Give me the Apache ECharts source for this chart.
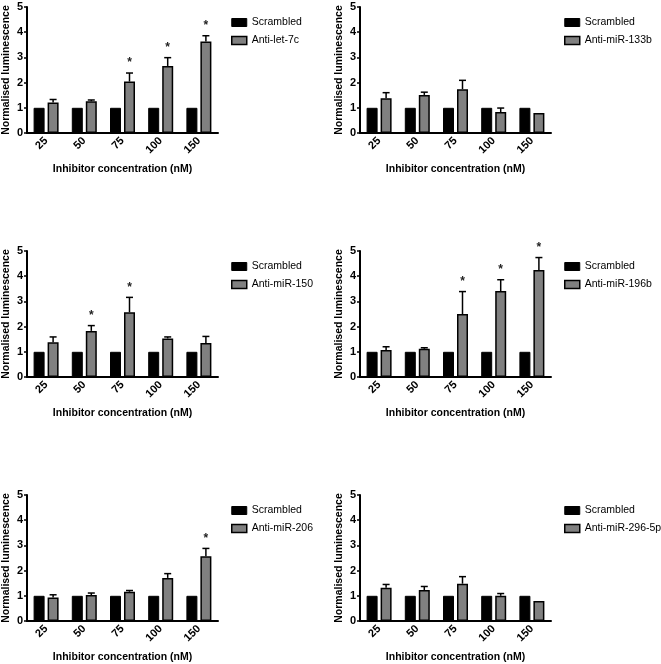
<!DOCTYPE html>
<html>
<head>
<meta charset="utf-8">
<script src="https://cdn.jsdelivr.net/npm/echarts@6/dist/echarts.min.js"></script>
<style>html,body{margin:0;padding:0;background:#fff}#c{width:661px;height:664px}</style>
</head>
<body>
<div id="c"></div>
<script>
const categories = ['25', '50', '75', '100', '150'];
const yTicks = [0, 1, 2, 3, 4, 5];
const controlName = 'Scrambled';
const inhibitorNames = ['Anti-let-7c', 'Anti-miR-133b', 'Anti-miR-150', 'Anti-miR-196b', 'Anti-miR-206', 'Anti-miR-296-5p'];
const scrambledValues = [1, 1, 1, 1, 1];
const letValues = [1.21, 1.26, 2.04, 2.66, 3.63];
const letErr = [1.33, 1.31, 2.38, 2.99, 3.86];
const letStar = [false, false, true, true, true];
const m133Values = [1.38, 1.51, 1.74, 0.83, 0.79];
const m133Err = [1.60, 1.62, 2.09, 0.99, 0.80];
const m133Star = [false, false, false, false, false];
const m150Values = [1.38, 1.83, 2.57, 1.53, 1.35];
const m150Err = [1.59, 2.04, 3.16, 1.59, 1.61];
const m150Star = [false, true, true, false, false];
const m196Values = [1.07, 1.12, 2.50, 3.41, 4.25];
const m196Err = [1.20, 1.16, 3.39, 3.86, 4.74];
const m196Star = [false, false, true, true, true];
const m206Values = [0.93, 1.03, 1.16, 1.71, 2.57];
const m206Err = [1.04, 1.11, 1.21, 1.88, 2.88];
const m206Star = [false, false, false, false, true];
const m296Values = [1.32, 1.23, 1.48, 1.00, 0.79];
const m296Err = [1.45, 1.37, 1.76, 1.09, 0.81];
const m296Star = [false, false, false, false, false];

const panels = [
  {name: inhibitorNames[0], v: letValues, e: letErr, s: letStar},
  {name: inhibitorNames[1], v: m133Values, e: m133Err, s: m133Star},
  {name: inhibitorNames[2], v: m150Values, e: m150Err, s: m150Star},
  {name: inhibitorNames[3], v: m196Values, e: m196Err, s: m196Star},
  {name: inhibitorNames[4], v: m206Values, e: m206Err, s: m206Star},
  {name: inhibitorNames[5], v: m296Values, e: m296Err, s: m296Star}
];

const FONT = 'Liberation Sans, Arial, sans-serif';
const BAR_W = 11, BAR_GAP = 3;
const GRAY = '#808080';
const lefts = [27, 360];
const tops = [7, 251, 495];
const gridW = 191, gridH = 126;

const grid = [], xAxis = [], yAxis = [], series = [], legend = [];
panels.forEach((p, i) => {
  const col = i % 2, row = Math.floor(i / 2);
  grid.push({left: lefts[col], top: tops[row], width: gridW, height: gridH});
  xAxis.push({
    type: 'category', gridIndex: i, data: categories,
    axisLine: {lineStyle: {color: '#000', width: 2}},
    axisTick: {alignWithLabel: true, length: 4, lineStyle: {color: '#000', width: 1.5}},
    axisLabel: {rotate: 45, color: '#000', fontWeight: 'bold', fontSize: 11, fontFamily: FONT, margin: 6},
    name: 'Inhibitor concentration (nM)', nameLocation: 'middle', nameGap: 31,
    nameTextStyle: {color: '#000', fontWeight: 'bold', fontSize: 10.5, fontFamily: FONT}
  });
  yAxis.push({
    type: 'value', gridIndex: i, min: yTicks[0], max: yTicks[yTicks.length - 1], interval: 1,
    axisLine: {show: true, lineStyle: {color: '#000', width: 2}},
    axisTick: {show: true, length: 3, lineStyle: {color: '#000', width: 1.5}},
    splitLine: {show: false},
    axisLabel: {color: '#000', fontWeight: 'bold', fontSize: 11, fontFamily: FONT, margin: 4},
    name: 'Normalised luminescence', nameLocation: 'middle', nameGap: 15,
    nameTextStyle: {color: '#000', fontWeight: 'bold', fontSize: 10.5, fontFamily: FONT}
  });
  series.push({
    type: 'bar', name: controlName, xAxisIndex: i, yAxisIndex: i, data: scrambledValues,
    barWidth: BAR_W, barGap: (BAR_GAP / BAR_W * 100) + '%',
    itemStyle: {color: '#000', borderColor: '#000', borderWidth: 1}, silent: true
  });
  series.push({
    type: 'bar', name: p.name, xAxisIndex: i, yAxisIndex: i, data: p.v,
    barWidth: BAR_W,
    itemStyle: {color: GRAY, borderColor: '#000', borderWidth: 1.5}, silent: true
  });
  series.push({
    type: 'custom', xAxisIndex: i, yAxisIndex: i, silent: true, z: 3,
    data: p.v.map((v, k) => [k, v, p.e[k], p.s[k] ? 1 : 0]),
    renderItem: function (params, api) {
      const off = (BAR_W + BAR_GAP) / 2;
      const base = api.coord([api.value(0), api.value(1)]);
      const top = api.coord([api.value(0), api.value(2)]);
      const x = base[0] + off;
      const children = [];
      if (top[1] < base[1] - 1) {
        children.push({type: 'line', shape: {x1: x, y1: base[1], x2: x, y2: top[1]}, style: {stroke: '#000', lineWidth: 1.5}});
        children.push({type: 'line', shape: {x1: x - 3.5, y1: top[1], x2: x + 3.5, y2: top[1]}, style: {stroke: '#000', lineWidth: 1.5}});
      }
      if (api.value(3)) {
        children.push({type: 'text', x: x, y: top[1] - 4, style: {text: '*', fill: '#222', font: 'bold 12px ' + FONT, align: 'center', verticalAlign: 'bottom'}});
      }
      return {type: 'group', children: children};
    }
  });
  legend.push({
    orient: 'vertical', left: lefts[col] + gridW + 8, top: tops[row] + 5,
    itemWidth: 15, itemHeight: 8, itemGap: 7,
    textStyle: {color: '#000', fontSize: 10.5, fontFamily: FONT},
    selectedMode: false,
    data: [
      {name: controlName, icon: 'rect', itemStyle: {color: '#000', borderColor: '#000', borderWidth: 1}},
      {name: p.name, icon: 'rect', itemStyle: {color: GRAY, borderColor: '#000', borderWidth: 1.5}}
    ]
  });
});

const chart = echarts.init(document.getElementById('c'), null, {renderer: 'canvas'});
chart.setOption({animation: false, backgroundColor: '#fff', grid, xAxis, yAxis, series, legend});
</script>
</body>
</html>
